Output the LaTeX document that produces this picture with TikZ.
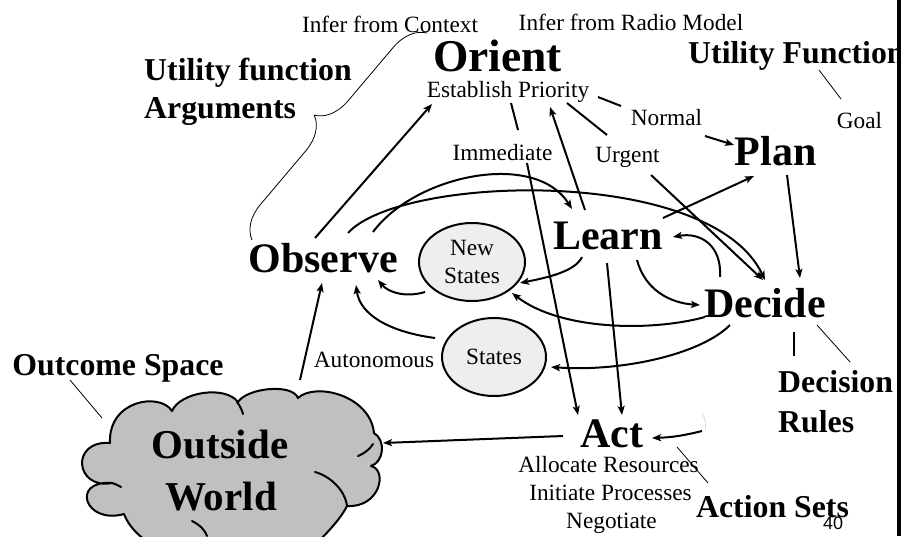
\documentclass[tikz,border=0pt]{standalone}
\usepackage{fontspec}
\setmainfont{Liberation Serif}
\newfontfamily\pagefont{Liberation Sans}
\usetikzlibrary{arrows.meta,shapes.geometric,decorations.pathreplacing}
\definecolor{cloudgray}{RGB}{192,192,192}
\definecolor{stategray}{RGB}{238,238,238}
\begin{document}
\begin{tikzpicture}[x=1pt,y=-1pt,
  lbl/.style={inner sep=0pt, anchor=base, font=\fontsize{23.3}{28}\selectfont},
  big/.style={inner sep=0pt, anchor=base, font=\fontsize{42}{50}\selectfont\bfseries},
  mid/.style={inner sep=0pt, anchor=base, font=\fontsize{31.8}{38}\selectfont\bfseries},
  link/.style={line width=2pt},
  arr/.style={line width=2pt, -{Stealth[length=9pt,width=7pt,inset=2pt]}},
  hair/.style={line width=0.8pt},
  cloudline/.style={line width=2pt, line join=round, line cap=round},
  stateell/.style={ellipse, draw, line width=2pt, fill=stategray, inner sep=0pt, align=center,
    font=\fontsize{23.3}{28}\selectfont}
]
\useasboundingbox (0,0) rectangle (901,536);
\clip (0,0) rectangle (901,536);

% cloud (Outside World)
\coordinate (world) at (231,476);
\draw[cloudline, fill=cloudgray]
  (110,443) .. controls (108,400) and (160,392) .. (172,411)
            .. controls (180,392) and (225,385) .. (238,402)
            .. controls (247,388) and (292,383) .. (298,398)
            .. controls (315,382) and (370,395) .. (374,433)
            .. controls (386,440) and (384,462) .. (371,466)
            .. controls (388,470) and (380,508) .. (347,506)
            .. controls (340,520) and (325,535) .. (312,548)
            -- (160,548)
            .. controls (140,540) and (128,525) .. (124,514)
            .. controls (85,525) and (70,480) .. (112,483)
            .. controls (75,490) and (70,440) .. (110,443) -- cycle;
\draw[cloudline] (315,472) .. controls (330,476) and (345,490) .. (347,506);
\draw[cloudline] (358,456) .. controls (365,453) and (370,449) .. (373,444);
\draw[cloudline] (237,402) .. controls (240,406) and (242,410) .. (243,414);
\draw[cloudline] (192,521) .. controls (200,525) and (205,530) .. (207,536);
\draw[cloudline] (112,483) .. controls (115,484) and (118,485) .. (121,487);
\node[big, font=\fontsize{41}{50}\selectfont\bfseries] (wt1) at (220,458) {Outside};
\node[big, font=\fontsize{41}{50}\selectfont\bfseries] (wt2) at (221,510) {World};

% state ellipses
\node[stateell, minimum width=106pt, minimum height=78pt] (newst) at (472,262) {New\\States};
\node[stateell, minimum width=104pt, minimum height=78pt] (st) at (494,357) {States};

% main stage labels
\node[big, font=\fontsize{45.5}{50}\selectfont\bfseries] (orient) at (497.5,71) {Orient};
\node[big] (observe) at (323,272) {Observe};
\node[big] (learn) at (608,249) {Learn};
\node[big] (plan) at (775.5,165) {Plan};
\node[big] (decide) at (765,317) {Decide};
\node[big] (act) at (611.5,447) {Act};

% small labels
\node[lbl] (ctx) at (390,32) {Infer from Context};
\node[lbl] (radio) at (631,30) {Infer from Radio Model};
\node[lbl] (prio) at (508,97) {Establish Priority};
\node[lbl] (immediate) at (502.5,160) {Immediate};
\node[lbl] (urgent) at (627.5,162) {Urgent};
\node[lbl] (normal) at (666.5,125) {Normal};
\node[lbl] (goal) at (859.5,128) {Goal};
\node[lbl] (autonomous) at (374,367) {Autonomous};
\node[lbl] (alloc) at (608.5,472) {Allocate Resources};
\node[lbl] (initiate) at (610.5,500) {Initiate Processes};
\node[lbl] (negotiate) at (611.5,528) {Negotiate};

% bold annotation labels
\node[mid, anchor=base west] (ufa1) at (144,80) {Utility function};
\node[mid, anchor=base west] (ufa2) at (144,118) {Arguments};
\node[mid, anchor=base west] (ufn) at (688,63) {Utility Function};
\node[mid] (outcome) at (118,375) {Outcome Space};
\node[mid, anchor=base west] (decision) at (778,392) {Decision};
\node[mid, anchor=base west] (rules) at (778,432) {Rules};
\node[mid] (actsets) at (772.5,517) {Action Sets};
\node[inner sep=0pt, anchor=base, font=\pagefont\fontsize{18}{20}\selectfont] (pagenum) at (833,529) {40};

% brace
\draw[hair, decorate, decoration={brace, amplitude=33pt}]
  ([shift={(-71,-32)}]observe.base) -- ([shift={(37,1)}]ctx.base);

% connectors
\draw[arr] ([shift={(-8,-34)}]observe.base) -- ([shift={(-76,7)}]prio.base);
\draw[arr] ([shift={(50,-40)}]observe.base) .. controls (415,175) and (535,150) .. ([shift={(-36,-40)}]learn.base);
\draw[arr] ([shift={(25,-39)}]observe.base) .. controls (400,175) and (710,165) .. ([shift={(0,-37)}]decide.base);

\draw[link] ([shift={(3,6)}]prio.base) -- ([shift={(15.5,-30)}]immediate.base);
\draw[arr] ([shift={(24.5,3)}]immediate.base) -- ([shift={(-33.5,-32)}]act.base);
\draw[arr] ([shift={(-23,-39)}]learn.base) -- ([shift={(42,10)}]prio.base);
\draw[link] ([shift={(59,6)}]prio.base) -- ([shift={(-20.5,-27)}]urgent.base);
\draw[arr] ([shift={(23.5,13)}]urgent.base) -- ([shift={(-2,-37)}]decide.base);
\draw[link] ([shift={(90,0)}]prio.base) -- ([shift={(-45.5,-19)}]normal.base);
\draw[arr] ([shift={(38.5,11)}]normal.base) -- ([shift={(-41.5,-20)}]plan.base);
\draw[arr] ([shift={(55,-31)}]learn.base) -- ([shift={(-21.5,11)}]plan.base);
\draw[arr] ([shift={(11.5,10)}]plan.base) -- ([shift={(35,-39)}]decide.base);

\draw[arr] ([shift={(-45,-40)}]decide.base) .. controls (722,245) and (700,232) .. ([shift={(65,-12)}]learn.base);
\draw[arr] ([shift={(29,11)}]learn.base) .. controls (645,290) and (670,303) .. ([shift={(-65,-12)}]decide.base);
\draw[arr] ([shift={(-26,8)}]learn.base) .. controls (575,272) and (545,278) .. ([shift={(48,21)}]newst.center);
\draw[arr] ([shift={(-60,0)}]decide.base) .. controls (650,332) and (560,330) .. ([shift={(40,31)}]newst.center);
\draw[arr] ([shift={(-35,8)}]decide.base) .. controls (700,355) and (620,372) .. ([shift={(57,10)}]st.center);
\draw[arr] ([shift={(-47,30)}]newst.center) .. controls (405,298) and (388,292) .. ([shift={(55,8)}]observe.base);
\draw[arr] ([shift={(-59,-19)}]st.center) .. controls (390,332) and (360,315) .. ([shift={(33,13)}]observe.base);
\draw[arr] ([shift={(69,-96)}]world) -- ([shift={(-1,11)}]observe.base);
\draw[arr] ([shift={(-1,14)}]learn.base) -- ([shift={(10.5,-32)}]act.base);
\draw[arr] ([shift={(-48.5,-11)}]act.base) -- ([shift={(152,-33)}]world);

\coordinate (actin) at (702,431);
\draw[arr] (actin) to[bend left=6] ([shift={(40.5,-9)}]act.base);
\draw[gray!40, line width=0.6pt] (702,413) to[bend left=20] (705,430);

\draw[link] ([shift={(29,15)}]decide.base) -- ([shift={(16,-36)}]decision.base west);
\draw[hair] ([shift={(52,8)}]decide.base) -- ([shift={(72,-30)}]decision.base west);
\draw[hair] ([shift={(-48,5)}]outcome.base) -- ([shift={(-129,-58)}]world);
\draw[hair] ([shift={(65.5,0)}]act.base) -- ([shift={(-64.5,-34)}]actsets.base);
\draw[hair] ([shift={(131,7)}]ufn.base west) -- ([shift={(-18.5,-29)}]goal.base);

% right slide edge
\fill[black] (897,0) rectangle (901,536);
\end{tikzpicture}
\end{document}
